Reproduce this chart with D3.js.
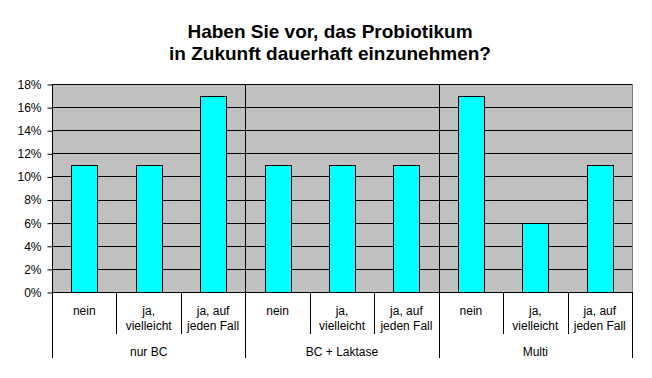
<!DOCTYPE html>
<html><head><meta charset="utf-8">
<script src="https://cdn.jsdelivr.net/npm/d3@7"></script>
<style>body{margin:0;background:#fff;}svg{display:block;font-family:Arial,"Liberation Sans",sans-serif;}</style>
</head><body>
<script>
const titleLines = ["Haben Sie vor, das Probiotikum", "in Zukunft dauerhaft einzunehmen?"];
const groups = ["nur BC", "BC + Laktase", "Multi"];
const answers = [["nein"], ["ja,", "vielleicht"], ["ja, auf", "jeden Fall"]];
const values = [11, 11, 17, 11, 11, 11, 17, 6, 11];
const yTicks = [0, 2, 4, 6, 8, 10, 12, 14, 16, 18];

const W = 652, H = 378;
const m = {left: 52, right: 632, top: 84, bottom: 292};
const svg = d3.select("body").append("svg").attr("width", W).attr("height", H);

const cats = [];
groups.forEach((g, gi) => answers.forEach((a, ai) => cats.push({g, gi, a, ai, key: gi + "-" + ai})));
const data = cats.map((c, i) => Object.assign({v: values[i]}, c));

const x = d3.scaleBand().domain(cats.map(c => c.key)).range([m.left, m.right]).paddingInner(0).paddingOuter(0);
const y = d3.scaleLinear().domain([0, 18]).range([m.bottom, m.top]);

// title
svg.append("text").attr("text-anchor", "middle")
  .attr("font-size", 19).attr("font-weight", "bold")
  .selectAll("tspan").data(titleLines).join("tspan")
  .attr("x", 330).attr("y", (d, i) => 37.5 + i * 22.5).text(d => d);

// plot background
svg.append("rect").attr("x", m.left + 0.5).attr("y", m.top + 0.5).attr("width", m.right - m.left)
  .attr("height", m.bottom - m.top).attr("fill", "#c0c0c0").attr("stroke", "#808080");

// gridlines
svg.append("g").selectAll("line").data(yTicks.filter(t => t > 0)).join("line")
  .attr("x1", m.left).attr("x2", m.right)
  .attr("y1", d => Math.round(y(d)) + 0.5).attr("y2", d => Math.round(y(d)) + 0.5)
  .attr("stroke", "#000").attr("stroke-width", 1);

// group separators inside plot
const bw = x.bandwidth();
[1, 2].forEach(gi => {
  const xx = Math.round(m.left + gi * 3 * bw) + 0.5;
  svg.append("line").attr("x1", xx).attr("x2", xx).attr("y1", m.top).attr("y2", 358).attr("stroke", "#000");
});

// bars
const barW = 26;
svg.append("g").selectAll("rect").data(data).join("rect")
  .attr("x", d => Math.round(x(d.key) + bw / 2 - barW / 2) + 0.5)
  .attr("y", d => Math.round(y(d.v)) + 0.5)
  .attr("width", barW)
  .attr("height", d => Math.round(y(0)) - Math.round(y(d.v)))
  .attr("fill", "#00ffff").attr("stroke", "#000");

// y axis
const yAxis = d3.axisLeft(y).tickValues(yTicks).tickSize(5).tickPadding(6).tickFormat(d => d + "%");
const ya = svg.append("g").attr("transform", `translate(${m.left + 0.5},0.5)`).call(yAxis);
ya.select(".domain").attr("d", `M0,${m.top}V${m.bottom}`);
ya.selectAll("text").attr("font-size", 12).attr("font-family", "Arial,'Liberation Sans',sans-serif").attr("fill", "#000");
ya.selectAll("line,path").attr("stroke", "#000");

// x axis line
svg.append("line").attr("x1", m.left).attr("x2", m.right).attr("y1", m.bottom + 0.5).attr("y2", m.bottom + 0.5).attr("stroke", "#000");

// category separators in axis area
const xa = svg.append("g");
d3.range(10).forEach(i => {
  const xx = Math.round(m.left + i * bw) + 0.5;
  const outer = (i % 3 === 0);
  if (i === 3 || i === 6) return;
  xa.append("line").attr("x1", xx).attr("x2", xx).attr("y1", m.bottom)
    .attr("y2", outer ? 358 : 334).attr("stroke", "#000");
});

// category labels
data.forEach(d => {
  const t = xa.append("text").attr("text-anchor", "middle").attr("font-size", 12).attr("fill", "#000");
  d.a.forEach((line, li) => {
    t.append("tspan").attr("x", x(d.key) + bw / 2).attr("y", 315 + li * 15).text(line);
  });
});
// group labels
groups.forEach((g, gi) => {
  xa.append("text").attr("x", m.left + (gi * 3 + 1.5) * bw).attr("y", 356)
    .attr("text-anchor", "middle").attr("font-size", 12).attr("fill", "#000").text(g);
});
</script>
</body></html>
